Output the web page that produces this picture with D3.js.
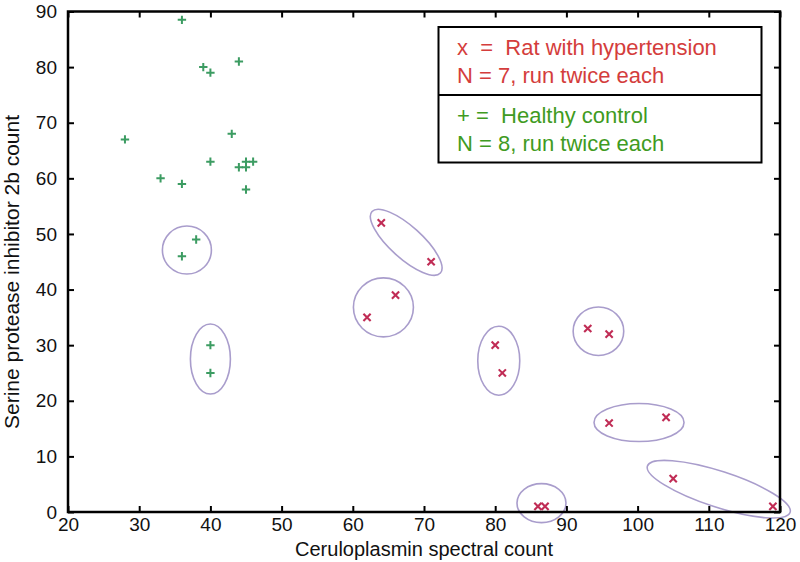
<!DOCTYPE html>
<html>
<head>
<meta charset="utf-8">
<script src="https://cdn.jsdelivr.net/npm/d3@7"></script>
<style>
  html, body { margin: 0; padding: 0; background: #fff; }
  svg { display: block; font-family: "Liberation Sans", Arial, Helvetica, sans-serif; }
  .pre { white-space: pre; }
</style>
</head>
<body>
<svg id="chart" width="800" height="562"></svg>
<script>
// ---- data ----
const healthyX = [36, 39, 40, 44, 28, 43, 40, 33, 36, 44, 45, 45, 46, 45, 38, 36, 40, 40];
const healthyY = [88.5, 80, 79, 81, 67, 68, 63, 60, 59, 62, 62, 63, 63, 58, 49, 46, 30, 25];
const hyperX = [64, 71, 66, 62, 80, 81, 93, 96, 96, 104, 105, 119, 86, 87];
const hyperY = [52, 45, 39, 35, 30, 25, 33, 32, 16, 17, 6, 1, 1, 1];
const xTicks = [20, 30, 40, 50, 60, 70, 80, 90, 100, 110, 120];
const yTicks = [0, 10, 20, 30, 40, 50, 60, 70, 80, 90];
// group rings: centre in data units
const ringCX = [36.7, 40, 67.5, 64.3, 80.5, 94.5, 100.2, 111.4, 86.5];
const ringCY = [47.1, 27.5, 48.5, 36.8, 27.2, 32.5, 16.1, 4.1, 1.6];
const legendLines1 = ["x  =  Rat with hypertension", "N = 7, run twice each"];
const legendLines2 = ["+ =  Healthy control", "N = 8, run twice each"];
const xLabel = "Ceruloplasmin spectral count";
const yLabel = "Serine protease inhibitor 2b count";

// ---- styling / geometry ----
const ringShape = [ // semi-axes (px) and rotation (deg)
  {a: 24.5, b: 24, r: 0}, {a: 20, b: 35, r: 0}, {a: 46, b: 16, r: 42},
  {a: 30, b: 29.5, r: 0}, {a: 21, b: 34.5, r: 0}, {a: 25.3, b: 24.2, r: 0},
  {a: 45, b: 19, r: 0}, {a: 75, b: 18, r: 18}, {a: 24.5, b: 19.5, r: 0}
];
const L = 68, R = 780, T = 11.5, B = 512;
const svg = d3.select("#chart");
const x = d3.scaleLinear().domain([20, 120]).range([L, R]);
const y = d3.scaleLinear().domain([0, 90]).range([B, T]);

const ringColor = "#a99dcc";
const greenMark = "#3c9c62";
const redMark = "#c02c55";

// rings
svg.append("g").selectAll("ellipse").data(ringCX).join("ellipse")
  .attr("cx", 0).attr("cy", 0)
  .attr("rx", (d, i) => ringShape[i].a)
  .attr("ry", (d, i) => ringShape[i].b)
  .attr("transform", (d, i) => `translate(${x(d)},${y(ringCY[i])}) rotate(${ringShape[i].r})`)
  .attr("fill", "none").attr("stroke", ringColor).attr("stroke-width", 1.6);

// healthy: plus markers
const s = 4.2;
svg.append("g").selectAll("path").data(healthyX).join("path")
  .attr("d", (d, i) => {
    const cx = x(d), cy = y(healthyY[i]);
    return `M${cx - s},${cy}H${cx + s}M${cx},${cy - s}V${cy + s}`;
  })
  .attr("stroke", greenMark).attr("stroke-width", 2).attr("fill", "none");

// hypertension: x markers
const k = 3.6;
svg.append("g").selectAll("path").data(hyperX).join("path")
  .attr("d", (d, i) => {
    const cx = x(d), cy = y(hyperY[i]);
    return `M${cx - k},${cy - k}L${cx + k},${cy + k}M${cx - k},${cy + k}L${cx + k},${cy - k}`;
  })
  .attr("stroke", redMark).attr("stroke-width", 2.1).attr("fill", "none");

// axes (ticks inward)
const tickLen = 6;
const axB = svg.append("g").attr("transform", `translate(0,${B})`)
  .call(d3.axisBottom(x).tickValues(xTicks).tickSizeInner(-tickLen).tickSizeOuter(0).tickPadding(6));
const axL = svg.append("g").attr("transform", `translate(${L},0)`)
  .call(d3.axisLeft(y).tickValues(yTicks).tickSizeInner(-tickLen).tickSizeOuter(0).tickPadding(11));
const axT = svg.append("g").attr("transform", `translate(0,${T})`)
  .call(d3.axisTop(x).tickValues(xTicks).tickSizeInner(-tickLen).tickSizeOuter(0).tickFormat(""));
const axR = svg.append("g").attr("transform", `translate(${R},0)`)
  .call(d3.axisRight(y).tickValues(yTicks).tickSizeInner(-tickLen).tickSizeOuter(0).tickFormat(""));
[axB, axL, axT, axR].forEach(g => {
  g.select(".domain").remove();
  g.selectAll(".tick line").attr("stroke", "#000").attr("stroke-width", 2);
  g.selectAll(".tick text").attr("fill", "#111").attr("font-size", 19)
    .attr("font-family", "'Liberation Sans', Arial, sans-serif");
});
axB.selectAll(".tick text").attr("dy", "0.71em");

// frame
svg.append("rect").attr("x", L).attr("y", T).attr("width", R - L).attr("height", B - T)
  .attr("fill", "none").attr("stroke", "#000").attr("stroke-width", 2.5);

// axis labels
svg.append("text").attr("x", 424).attr("y", 556).attr("text-anchor", "middle")
  .attr("font-size", 20).attr("fill", "#111").text(xLabel);
svg.append("text").attr("transform", `translate(19,272) rotate(-90)`)
  .attr("text-anchor", "middle").attr("font-size", 21).attr("fill", "#111").text(yLabel);

// legend
const lg = svg.append("g");
const lx0 = 438.5, lx1 = 761.5, ly0 = 27, ly1 = 162.5, lmid = 95;
lg.append("rect").attr("x", lx0).attr("y", ly0).attr("width", lx1 - lx0).attr("height", ly1 - ly0)
  .attr("fill", "#fff").attr("stroke", "#000").attr("stroke-width", 2);
lg.append("line").attr("x1", lx0).attr("x2", lx1).attr("y1", lmid).attr("y2", lmid)
  .attr("stroke", "#000").attr("stroke-width", 2);
const red = "#d43d3c", green = "#3f9b22";
lg.selectAll("text.l1").data(legendLines1).join("text").attr("class", "l1 pre")
  .attr("x", 457).attr("y", (d, i) => 55 + i * 27.5)
  .attr("font-size", 22).attr("fill", red).text(d => d);
lg.selectAll("text.l2").data(legendLines2).join("text").attr("class", "l2 pre")
  .attr("x", 457).attr("y", (d, i) => 123 + i * 27.5)
  .attr("font-size", 22).attr("fill", green).text(d => d);
</script>
</body>
</html>
